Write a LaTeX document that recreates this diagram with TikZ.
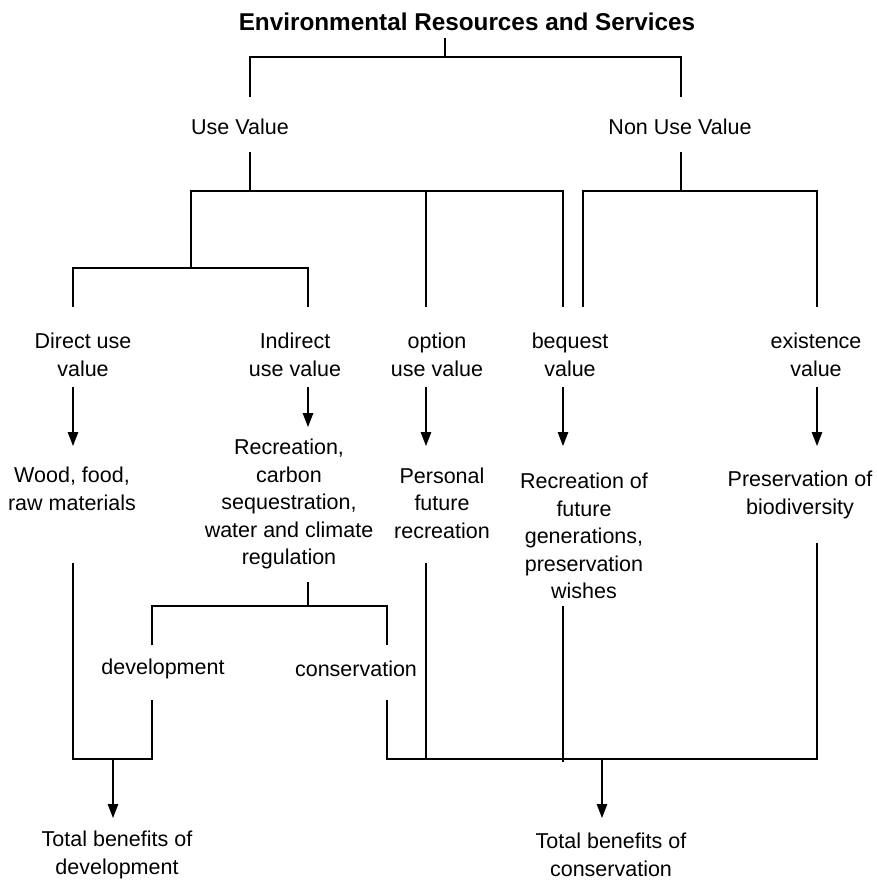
\documentclass[tikz,border=0pt]{standalone}
\usepackage{fontspec}
\setmainfont{Liberation Sans}
\usetikzlibrary{arrows.meta}
\begin{document}
\begin{tikzpicture}[x=1pt,y=-1pt,
  lbl/.style={align=center,inner sep=0pt,font=\fontsize{21.5}{27.5}\selectfont},
  ttl/.style={inner sep=0pt,font=\fontsize{24.3}{28}\selectfont\bfseries},
  ln/.style={line width=1.3pt},
  arr/.style={line width=1.3pt,-{Triangle[length=14pt,width=10.5pt]}}]
\useasboundingbox (0,0) rectangle (876,881);
% texts
\node[ttl] (title) at (467,22) {Environmental Resources and Services};
\node[lbl] (use) at (240,127) {Use Value};
\node[lbl] (nonuse) at (680,127) {Non Use Value};
\node[lbl] (direct) at (83,355) {Direct use\\value};
\node[lbl] (indirect) at (295,355) {Indirect\\use value};
\node[lbl] (option) at (437,355) {option\\use value};
\node[lbl] (bequest) at (570,355) {bequest\\value};
\node[lbl] (existence) at (816,355) {existence\\value};
\node[lbl] (wood) at (72,489) {Wood, food,\\raw materials};
\node[lbl] (recr) at (289,504) {Recreation,\\carbon\\sequestration,\\water and climate\\regulation};
\node[lbl] (personal) at (442,503) {Personal\\future\\recreation};
\node[lbl] (recfut) at (584,536) {Recreation of\\future\\generations,\\preservation\\wishes};
\node[lbl] (pres) at (800,495) {Preservation of\\biodiversity};
\node[lbl] (dev) at (163,669) {development};
\node[lbl] (cons) at (356,669) {conservation};
\node[lbl] (totdev) at (117,855) {Total benefits of\\development};
\node[lbl] (totcons) at (611,855) {Total benefits of\\conservation};
% junction coordinates
\coordinate (tA) at (445,38);  \coordinate (tB) at (445,57);
\coordinate (uT) at (250,97);  \coordinate (nT) at (681,97);
\coordinate (uB) at (250,152); \coordinate (uJ) at (250,191);
\coordinate (nB) at (681,152); \coordinate (nJ) at (681,191);
\coordinate (dJ) at (191,268); \coordinate (uL) at (191,191);
\coordinate (bqT) at (563,307); \coordinate (opJ) at (426,191); \coordinate (opT) at (426,307);
\coordinate (bqN) at (583,307); \coordinate (exT) at (817,307);
\coordinate (drT) at (73,307); \coordinate (inT) at (308,307);
\coordinate (a1s) at (73,387);  \coordinate (a1e) at (73,446);
\coordinate (a2s) at (308,387); \coordinate (a2e) at (308,427);
\coordinate (a3s) at (426,387); \coordinate (a3e) at (426,446);
\coordinate (a4s) at (563,387); \coordinate (a4e) at (563,446);
\coordinate (a5s) at (817,387); \coordinate (a5e) at (817,446);
\coordinate (rB) at (308,582); \coordinate (rJ) at (308,606);
\coordinate (dvT) at (152,645); \coordinate (csT) at (387,645);
\coordinate (wB) at (73,563); \coordinate (dvB) at (152,700);
\coordinate (csB) at (387,700); \coordinate (pB) at (426,563);
\coordinate (qB) at (563,606); \coordinate (qE) at (563,762);
\coordinate (xB) at (817,543);
\coordinate (L) at (0,759);
\coordinate (d1) at (113,759); \coordinate (d2) at (113,818);
\coordinate (c1) at (602,759); \coordinate (c2) at (602,818);
% connectors
\draw[ln] (tA) -- (tB);
\draw[ln] (uT) |- (tB) -| (nT);
\draw[ln] (uB) -- (uJ);
\draw[ln] (nB) -- (nJ);
\draw[ln] (dJ) -- (uL) -- (uJ -| bqT) -- (bqT);
\draw[ln] (opJ) -- (opT);
\draw[ln] (bqN) |- (nJ) -| (exT);
\draw[ln] (drT) |- (dJ) -| (inT);
\draw[arr] (a1s) -- (a1e);
\draw[arr] (a2s) -- (a2e);
\draw[arr] (a3s) -- (a3e);
\draw[arr] (a4s) -- (a4e);
\draw[arr] (a5s) -- (a5e);
\draw[ln] (rB) -- (rJ);
\draw[ln] (dvT) |- (rJ) -| (csT);
\draw[ln] (wB) -- (wB |- L) -- (dvB |- L) -- (dvB);
\draw[arr] (d1) -- (d2);
\draw[ln] (csB) -- (csB |- L) -- (xB |- L) -- (xB);
\draw[ln] (pB) -- (pB |- L);
\draw[ln] (qB) -- (qE);
\draw[arr] (c1) -- (c2);
\end{tikzpicture}
\end{document}
